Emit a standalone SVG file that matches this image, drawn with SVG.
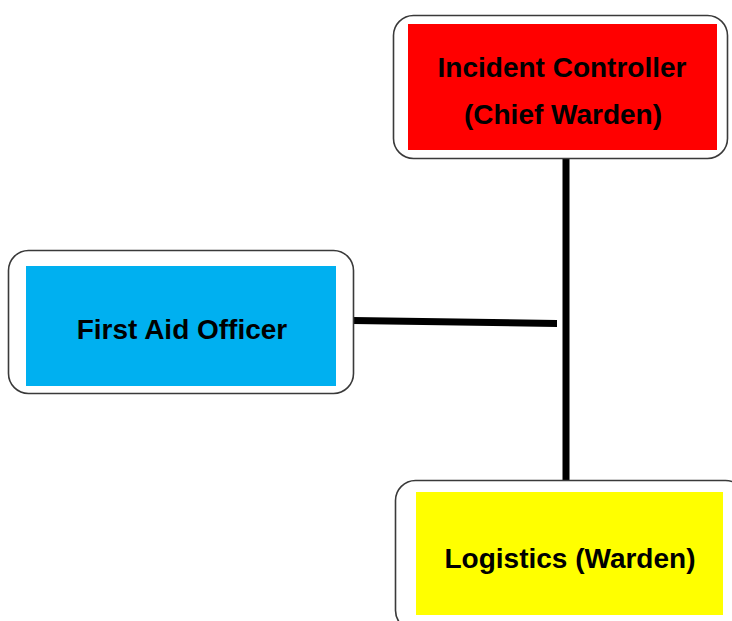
<svg xmlns="http://www.w3.org/2000/svg" width="732" height="621" viewBox="0 0 732 621">
<style>
.frame{fill:#ffffff;stroke:#3a3a3a;stroke-width:1.6}
.lbl{font-family:"Liberation Sans",Arial,sans-serif;font-weight:bold;font-size:28px;fill:#000;text-anchor:middle}
.conn{stroke:#000;fill:none;stroke-width:7}
</style>
<rect width="732" height="621" fill="#ffffff"/>
<g id="connectors">
<line class="conn" x1="566" y1="158" x2="566" y2="481"/>
<path d="M353 317 L557 320 L557 327 L353 324 Z" fill="#000"/>
</g>
<g id="incident-controller">
<rect class="frame" x="393.5" y="15.5" width="334" height="143" rx="20"/>
<rect x="408" y="24" width="309" height="126" fill="#ff0000"/>
<text class="lbl" x="562" y="77">Incident Controller</text>
<text class="lbl" x="563" y="124">(Chief Warden)</text>
</g>
<g id="first-aid-officer">
<rect class="frame" x="8.5" y="250.5" width="345" height="143" rx="20"/>
<rect x="26" y="266" width="310" height="120" fill="#00b0f0"/>
<text class="lbl" x="182" y="339">First Aid Officer</text>
</g>
<g id="logistics">
<rect class="frame" x="395.5" y="480.5" width="350" height="150" rx="20"/>
<rect x="416" y="492" width="307" height="123" fill="#ffff00"/>
<text class="lbl" x="570" y="568">Logistics (Warden)</text>
</g>
</svg>
